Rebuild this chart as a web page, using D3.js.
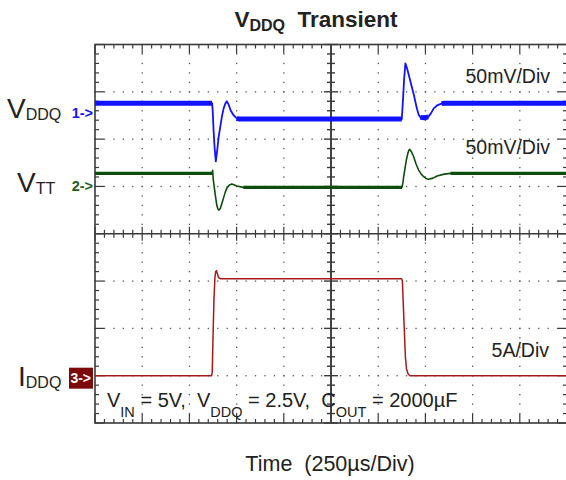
<!DOCTYPE html>
<html><head><meta charset="utf-8">
<script src="https://cdn.jsdelivr.net/npm/d3@7"></script>
<style>body{margin:0;background:#fff} svg{display:block;font-family:"Liberation Sans",Arial,sans-serif} text{white-space:pre}</style>
</head><body>
<svg id="c" width="566" height="480"></svg>
<script>
// ---------------- data ----------------
const timeDomainUs = [0, 2500];          // 250 µs/Div x 10 divisions
const voltsPerDivMv = 50;                // channels 1 & 2
const ampsPerDiv = 5;                    // channel 3

// Channel 1: VDDQ deviation (mV) relative to its marker
const vddqT  = [0, 620, 623, 628, 634, 640, 647, 655, 663, 672, 680, 690, 698, 708, 718, 733, 751, 765,
                1625, 1630, 1637, 1644, 1652, 1661, 1675, 1688, 1698, 1706, 1715, 1723, 1745, 1765, 1780, 1794, 1815, 1835, 1850, 2500];
const vddqMv = [10.5, 10.5, 4, -18, -38, -51, -40, -25, -15, -4, 4, 10, 12.5, 9, 3, -2, -5.5, -6.3,
                -6.3, 10, 35, 52.5, 48, 41, 30, 20, 11, 4, -2, -4.5, -5, -4, 0, 5, 8.5, 10, 10.5, 10.5];
const vddqNoisy = [[0, 621], [751, 1626], [1720, 1770], [1835, 2500]];

// Channel 2: VTT deviation (mV) relative to its marker
const vttT  = [0, 621, 623, 626, 631, 636, 645, 651, 657, 664, 672, 680, 690, 698, 712, 725, 738, 751, 786,
               1626, 1631, 1635, 1642, 1649, 1657, 1663, 1667, 1675, 1688, 1700, 1714, 1728, 1741, 1755, 1767, 1790, 1812, 1850, 1883, 2500];
const vttMv = [13.8, 13.8, 17, 8, 0, -7.3, -19.7, -24, -25, -23, -18, -12.6, -6, -2, 1.5, 2.5, 1.5, 0.4, -1,
               -1, 4, 10.3, 19, 27.9, 35, 38.5, 39.2, 37, 31.4, 24, 17.3, 13, 10.3, 8.2, 7.5, 8.8, 11, 13, 13.8, 13.8];
const vttNoisy = [[0, 621], [760, 1626], [1870, 2500]];

// Channel 3: IDDQ (A) relative to its marker
const iddqT = [0, 618, 621, 625, 630, 635, 639, 643, 648, 655, 664, 1624, 1628, 1632, 1638, 1644, 1650, 1658, 1668, 2500];
const iddqA = [0, 0, 0.4, 4, 8, 10.3, 11, 11.1, 10.8, 10.35, 10.25, 10.25, 10, 8, 5, 2, 0.7, 0.2, 0, 0];

// channel marker positions (divisions from screen centre)
const chOffsetDiv = {ch1: 2.55, ch2: 1.0, ch3: -3.0};

const titleMain = "V", titleSub = "DDQ", titleRest = "  Transient";
const scaleLabels = ["50mV/Div", "50mV/Div", "5A/Div"];
const xAxisLabel = "Time  (250\u00B5s/Div)";

// ---------------- layout ----------------
const L = 95, R = 567, T = 44.5, B = 423;
const svg = d3.select('#c');

const x  = d3.scaleLinear().domain(timeDomainUs).range([L, R]);
const xd = d3.scaleLinear().domain([0, 10]).range([L, R]);
const yd = d3.scaleLinear().domain([-4, 4]).range([B, T]);
const frameCol = '#3a3a3a', dotCol = '#555';

const minorX = d3.range(0, 10.0001, 0.2);
const minorY = d3.range(-4, 4.0001, 0.2);
const isMajor = v => Math.abs(v - Math.round(v)) < 1e-6;

const grid = svg.append('g');
d3.range(1, 10).filter(i => i !== 5).forEach(i => {
  grid.selectAll(null).data(minorY).enter().append('rect')
    .attr('x', xd(i) - 0.6).attr('y', d => yd(d) - 0.6).attr('width', 1.3).attr('height', 1.3).attr('fill', dotCol);
});
d3.range(-3, 4).filter(j => j !== 0).forEach(j => {
  grid.selectAll(null).data(minorX).enter().append('rect')
    .attr('x', d => xd(d) - 0.6).attr('y', yd(j) - 0.6).attr('width', 1.3).attr('height', 1.3).attr('fill', dotCol);
});

grid.append('rect').attr('x', L).attr('y', T).attr('width', R - L).attr('height', B - T)
  .attr('fill', 'none').attr('stroke', frameCol).attr('stroke-width', 1.6);
const tk = grid.append('g').attr('stroke', frameCol).attr('stroke-width', 1.2);
minorX.forEach(v => {
  const len = isMajor(v) ? 9 : 4;
  tk.append('line').attr('x1', xd(v)).attr('x2', xd(v)).attr('y1', T).attr('y2', T + len);
  tk.append('line').attr('x1', xd(v)).attr('x2', xd(v)).attr('y1', B).attr('y2', B - len);
});
minorY.forEach(v => {
  const len = isMajor(v) ? 9 : 4;
  tk.append('line').attr('y1', yd(v)).attr('y2', yd(v)).attr('x1', L).attr('x2', L + len);
  tk.append('line').attr('y1', yd(v)).attr('y2', yd(v)).attr('x1', R).attr('x2', R - len);
});
const cy = yd(0), cx = xd(5);
tk.append('line').attr('x1', L).attr('x2', R).attr('y1', cy).attr('y2', cy).attr('stroke-width', 1.4);
tk.append('line').attr('x1', cx).attr('x2', cx).attr('y1', T).attr('y2', B).attr('stroke-width', 2).attr('stroke', '#444');
minorX.forEach(v => {
  const len = isMajor(v) ? 7 : 4;
  tk.append('line').attr('x1', xd(v)).attr('x2', xd(v)).attr('y1', cy - len).attr('y2', cy + len);
});
minorY.forEach(v => {
  const len = isMajor(v) ? 7 : 4;
  tk.append('line').attr('y1', yd(v)).attr('y2', yd(v)).attr('x1', cx - len).attr('x2', cx + len).attr('stroke-width', 1.4);
});

// ---------------- traces ----------------
svg.append('clipPath').attr('id', 'pc').append('rect')
  .attr('x', L).attr('y', T).attr('width', R - L).attr('height', B - T);
const tr = svg.append('g').attr('clip-path', 'url(#pc)');

function drawTrace(ts, vs, perDiv, offDiv, color, w, noisy, bandW) {
  const pts = ts.map((t, i) => [t, vs[i]]);
  const line = d3.line().x(d => x(d[0])).y(d => yd(offDiv + d[1] / perDiv));
  tr.append('path').datum(pts).attr('d', line).attr('fill', 'none')
    .attr('stroke', color).attr('stroke-width', w).attr('stroke-linejoin', 'round');
  (noisy || []).forEach(([a, b]) => {
    const seg = pts.filter(p => p[0] >= a && p[0] <= b);
    tr.append('path').datum(seg).attr('d', line).attr('fill', 'none')
      .attr('stroke', color).attr('stroke-width', bandW).attr('stroke-linejoin', 'round');
  });
}
const blue = '#1212ff', green = '#0d4d0d', red = '#a61a1c';
drawTrace(iddqT, iddqA, ampsPerDiv, chOffsetDiv.ch3, red, 1.5, null, 0);
drawTrace(vttT, vttMv, voltsPerDivMv, chOffsetDiv.ch2, green, 1.6, vttNoisy, 3.4);
drawTrace(vddqT, vddqMv, voltsPerDivMv, chOffsetDiv.ch1, blue, 1.8, vddqNoisy, 5);

// ---------------- text ----------------
const txt = svg.append('g').attr('fill', '#222');
const title = txt.append('text').attr('x', 316).attr('y', 27).attr('text-anchor', 'middle')
  .attr('font-size', 22.5).attr('font-weight', 'bold');
title.append('tspan').text(titleMain);
title.append('tspan').attr('font-size', 16).attr('dy', 4).text(titleSub);
title.append('tspan').attr('dy', -4).text(titleRest);

function subLabel(xp, yp, main, sub, size, subSize, shift) {
  const t = txt.append('text').attr('x', xp).attr('y', yp).attr('font-size', size);
  t.append('tspan').text(main);
  t.append('tspan').attr('font-size', subSize).attr('dy', shift).text(sub);
  return t;
}
subLabel(7, yd(chOffsetDiv.ch1) + 5, 'V', 'DDQ', 28, 16, 2);
subLabel(17, yd(chOffsetDiv.ch2) + 6, 'V', 'TT', 28, 16, 2);
subLabel(18, yd(chOffsetDiv.ch3) + 10, 'I', 'DDQ', 28, 16, 2);

svg.append('text').attr('x', L - 2).attr('y', yd(chOffsetDiv.ch1) + 5).attr('text-anchor', 'end')
  .attr('font-size', 14.5).attr('font-weight', 'bold').attr('fill', blue).text('1->');
svg.append('text').attr('x', L - 2).attr('y', yd(chOffsetDiv.ch2) + 5).attr('text-anchor', 'end')
  .attr('font-size', 14.5).attr('font-weight', 'bold').attr('fill', '#1e5e1e').text('2->');
svg.append('rect').attr('x', L - 26).attr('y', yd(chOffsetDiv.ch3) - 8).attr('width', 24).attr('height', 21)
  .attr('fill', '#7d0a0a');
svg.append('text').attr('x', L - 4).attr('y', yd(chOffsetDiv.ch3) + 7).attr('text-anchor', 'end')
  .attr('font-size', 14).attr('font-weight', 'bold').attr('fill', '#fff').text('3->');

txt.append('text').attr('x', 550).attr('y', 83).attr('text-anchor', 'end').attr('font-size', 19.5).text(scaleLabels[0]);
txt.append('text').attr('x', 550).attr('y', 154).attr('text-anchor', 'end').attr('font-size', 19.5).text(scaleLabels[1]);
txt.append('text').attr('x', 549).attr('y', 357).attr('text-anchor', 'end').attr('font-size', 19.5).text(scaleLabels[2]);

const cond = txt.append('text').attr('x', 107).attr('y', 407).attr('font-size', 20);
[['V', 'IN', ' = 5V,  '], ['V', 'DDQ', ' = 2.5V,  '], ['C', 'OUT', ' = 2000\u00B5F']].forEach(([m, s, r]) => {
  cond.append('tspan').text(m);
  cond.append('tspan').attr('font-size', 14.5).attr('dy', 10).text(s);
  cond.append('tspan').attr('dy', -10).text(r);
});

txt.append('text').attr('x', 330).attr('y', 471).attr('text-anchor', 'middle').attr('font-size', 21.5).text(xAxisLabel);
</script>
</body></html>
